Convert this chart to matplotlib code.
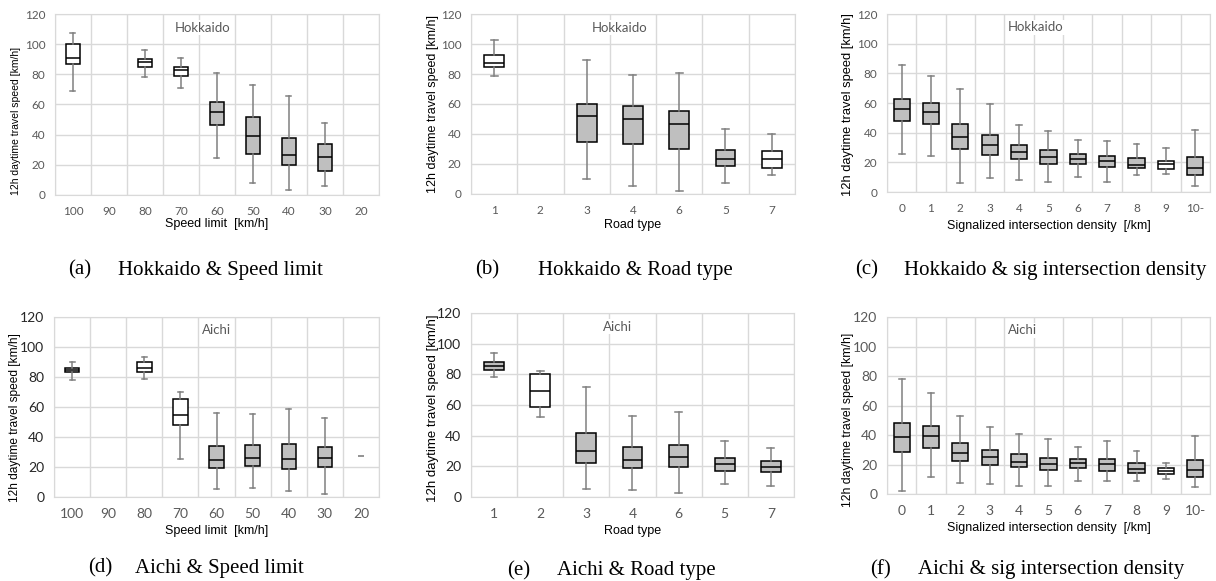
import matplotlib.pyplot as plt
import numpy as np

plt.rcParams['font.family'] = ['Liberation Sans', 'DejaVu Sans']

speed_cats = ['100', '90', '80', '70', '60', '50', '40', '30', '20']
road_cats = ['1', '2', '3', '4', '6', '5', '7']
sig_cats = ['0', '1', '2', '3', '4', '5', '6', '7', '8', '9', '10-']

# Hokkaido - speed limit  (None = no data for that class)
hk_speed_lo = [68.7, None, 78.2, 70.9, 24.3, 7.7, 3.3, 6.0, None]
hk_speed_q1 = [86.6, None, 85.1, 78.9, 46.6, 27.4, 19.7, 15.9, None]
hk_speed_med = [90.8, None, 88.0, 82.9, 54.8, 39.3, 26.3, 25.4, None]
hk_speed_q3 = [99.9, None, 90.4, 85.1, 61.7, 51.7, 37.8, 33.6, None]
hk_speed_hi = [107.6, None, 95.9, 90.8, 80.7, 72.7, 65.4, 48.0, None]
hk_speed_white = ['100', '80', '70']

# Hokkaido - road type
hk_road_lo = [78.7, None, 10.0, 5.3, 2.0, 7.3, 12.4]
hk_road_q1 = [84.5, None, 34.8, 33.3, 30.2, 18.6, 17.3]
hk_road_med = [87.4, None, 52.1, 49.7, 46.4, 23.5, 23.3]
hk_road_q3 = [92.5, None, 59.9, 58.8, 55.2, 29.0, 28.4]
hk_road_hi = [102.9, None, 89.6, 79.2, 80.5, 43.5, 40.0]
hk_road_white = ['1', '7']

# Hokkaido - signalized intersection density
hk_sig_lo = [25.5, 24.4, 6.3, 9.7, 8.4, 6.8, 10.2, 6.8, 11.3, 12.4, 4.3]
hk_sig_q1 = [47.7, 45.6, 28.7, 24.9, 22.1, 19.2, 19.2, 17.2, 16.0, 15.6, 11.3]
hk_sig_med = [55.8, 53.8, 37.3, 31.4, 27.1, 23.3, 22.4, 20.6, 18.5, 18.8, 16.5]
hk_sig_q3 = [62.6, 59.7, 46.1, 38.6, 31.9, 28.0, 25.5, 24.0, 23.0, 21.2, 23.3]
hk_sig_hi = [85.6, 78.2, 69.2, 59.2, 45.0, 40.9, 35.3, 34.1, 32.5, 30.0, 41.6]
hk_sig_white = ['9']

# Aichi - speed limit
ai_speed_lo = [77.9, None, 78.4, 25.0, 5.1, 6.2, 4.2, 2.0, None]
ai_speed_q1 = [83.0, None, 83.0, 47.8, 19.3, 20.4, 18.6, 19.9, None]
ai_speed_med = [84.6, None, 85.7, 54.7, 24.4, 26.1, 25.5, 26.1, None]
ai_speed_q3 = [86.1, None, 89.7, 65.1, 33.9, 34.5, 35.4, 33.4, None]
ai_speed_hi = [90.3, None, 93.4, 69.7, 55.8, 55.1, 58.4, 52.9, None]
ai_speed_single = {'20': 27.2}   # only one link in the 20 km/h class
ai_speed_white = ['100', '80', '70']

# Aichi - road type
ai_road_lo = [78.3, 52.2, 5.2, 4.6, 2.4, 8.5, 7.0]
ai_road_q1 = [82.8, 58.5, 22.0, 19.1, 19.8, 17.2, 16.1]
ai_road_med = [85.7, 69.1, 30.0, 24.3, 26.1, 21.7, 19.8]
ai_road_q3 = [88.0, 80.0, 41.5, 32.6, 34.1, 25.2, 23.3]
ai_road_hi = [93.9, 82.4, 71.5, 52.6, 55.7, 36.3, 32.2]
ai_road_white = ['2']

# Aichi - signalized intersection density
ai_sig_lo = [2.3, 11.3, 7.2, 6.6, 5.4, 5.4, 9.1, 9.1, 8.6, 10.2, 5.0]
ai_sig_q1 = [28.5, 31.2, 22.2, 19.7, 18.1, 16.1, 17.7, 15.6, 14.0, 13.6, 11.3]
ai_sig_med = [38.5, 39.4, 28.1, 24.9, 22.0, 20.6, 20.8, 20.1, 17.2, 15.6, 16.1]
ai_sig_q3 = [48.4, 46.2, 34.4, 29.7, 27.2, 24.5, 23.5, 24.0, 20.8, 17.4, 22.9]
ai_sig_hi = [78.3, 68.4, 53.2, 45.3, 40.5, 37.4, 31.9, 35.8, 29.2, 20.8, 39.6]
ai_sig_white = ['9']

ylab = '12h daytime travel speed [km/h]'
GRID = '#d9d9d9'
TICK = '#595959'


def panel(rect, cats, lo, q1, med, q3, hi, white, xlabel, region, caption,
          width, capw, look, single=None):
    # look: tick size, x tick pad, y tick colour, ylabel size, ylabel x, ylabel y,
    #       xlabel y, region label x
    tfs, xpad, ycol, yfs, ylx, yly, xly, rx = look
    ax = fig.add_axes(rect)
    stats, pos, faces = [], [], []
    for i, c in enumerate(cats):
        if med[i] is None:
            continue
        stats.append(dict(whislo=lo[i], q1=q1[i], med=med[i], q3=q3[i],
                          whishi=hi[i], fliers=[]))
        pos.append(i)
        faces.append('white' if c in white else '#bfbfbf')
    bp = ax.bxp(stats, positions=pos, widths=width, capwidths=capw,
                patch_artist=True, showfliers=False,
                boxprops=dict(edgecolor='black', linewidth=1.1),
                medianprops=dict(color='black', linewidth=1.1),
                whiskerprops=dict(color='#808080', linewidth=1.1),
                capprops=dict(color='#808080', linewidth=1.1))
    for b, f in zip(bp['boxes'], faces):
        b.set_facecolor(f)
    if single:
        for c, v in single.items():
            ax.plot([cats.index(c)], [v], marker='_', ms=5, mew=1.2, color='#808080')

    n = len(cats)
    ax.set_xlim(-0.5, n - 0.5)
    ax.set_ylim(0, 120)
    ax.set_yticks(range(0, 121, 20))
    ax.set_xticks(range(n))
    ax.set_xticklabels(cats)
    ax.set_xticks(np.arange(n + 1) - 0.5, minor=True)
    ax.grid(which='minor', axis='x', color=GRID, lw=1)
    ax.grid(which='major', axis='y', color=GRID, lw=1)
    ax.set_axisbelow(True)
    for s in ax.spines.values():
        s.set_color(GRID)
    ax.tick_params(which='both', length=0)
    ax.tick_params(axis='x', pad=xpad, labelsize=tfs, labelcolor=TICK)
    ax.tick_params(axis='y', pad=7, labelsize=tfs, labelcolor=ycol)
    for t in ax.get_xticklabels() + ax.get_yticklabels():
        t.set_family('Lato')

    ax.set_xlabel(xlabel, fontsize=9)
    ax.xaxis.set_label_coords(0.5, xly)
    ax.set_ylabel(ylab, fontsize=yfs)
    ax.yaxis.set_label_coords(ylx, yly)
    ax.text(rx, 0.925, region, transform=ax.transAxes, ha='center', va='center',
            fontsize=9.5, color=TICK, family='Lato',
            bbox=dict(fc='white', ec='none', pad=1))

    lab, txt, lx, tx, ty = caption
    fig.text(lx / 1216, ty, lab, fontsize=15, family='Liberation Serif')
    fig.text(tx / 1216, ty, txt, fontsize=15, family='Liberation Serif')
    return ax


fig = plt.figure(figsize=(12.16, 5.81), dpi=100)

panel([0.0452, 0.6644, 0.2664, 0.3115], speed_cats, hk_speed_lo, hk_speed_q1,
      hk_speed_med, hk_speed_q3, hk_speed_hi, hk_speed_white,
      'Speed limit  [km/h]', 'Hokkaido',
      ('(a)', 'Hokkaido & Speed limit', 68, 118, 0.527), 0.4, 0.14,
      (8.5, 8, TICK, 7.5, -0.105, 0.41, -0.127, 0.457))
panel([0.3873, 0.6661, 0.2664, 0.3098], road_cats, hk_road_lo, hk_road_q1,
      hk_road_med, hk_road_q3, hk_road_hi, hk_road_white,
      'Road type', 'Hokkaido',
      ('(b)', 'Hokkaido & Road type', 475, 538, 0.527), 0.43, 0.15,
      (8.5, 8, TICK, 9, -0.099, 0.5, -0.139, 0.46))
panel([0.7294, 0.6695, 0.2656, 0.3064], sig_cats, hk_sig_lo, hk_sig_q1,
      hk_sig_med, hk_sig_q3, hk_sig_hi, hk_sig_white,
      'Signalized intersection density  [/km]', 'Hokkaido',
      ('(c)', 'Hokkaido & sig intersection density', 855, 904, 0.527), 0.55, 0.2,
      (8.5, 8, TICK, 9.3, -0.102, 0.49, -0.157, 0.46))
panel([0.0444, 0.1446, 0.2673, 0.3098], speed_cats, ai_speed_lo, ai_speed_q1,
      ai_speed_med, ai_speed_q3, ai_speed_hi, ai_speed_white,
      'Speed limit  [km/h]', 'Aichi',
      ('(d)', 'Aichi & Speed limit', 88, 135, 0.014), 0.4, 0.14,
      (10, 8, '#262626', 8.6, -0.102, 0.44, -0.156, 0.50),
      single=ai_speed_single)
panel([0.3873, 0.1446, 0.2656, 0.3167], road_cats, ai_road_lo, ai_road_q1,
      ai_road_med, ai_road_q3, ai_road_hi, ai_road_white,
      'Road type', 'Aichi',
      ('(e)', 'Aichi & Road type', 507, 557, 0.010), 0.43, 0.15,
      (10, 8, '#262626', 9.5, -0.098, 0.48, -0.152, 0.455))
panel([0.7294, 0.1497, 0.2656, 0.3046], sig_cats, ai_sig_lo, ai_sig_q1,
      ai_sig_med, ai_sig_q3, ai_sig_hi, ai_sig_white,
      'Signalized intersection density  [/km]', 'Aichi',
      ('(f)', 'Aichi & sig intersection density', 870, 918, 0.012), 0.55, 0.2,
      (10, 8, TICK, 8.8, -0.102, 0.42, -0.158, 0.42))

fig.savefig('out.png', dpi=100)
